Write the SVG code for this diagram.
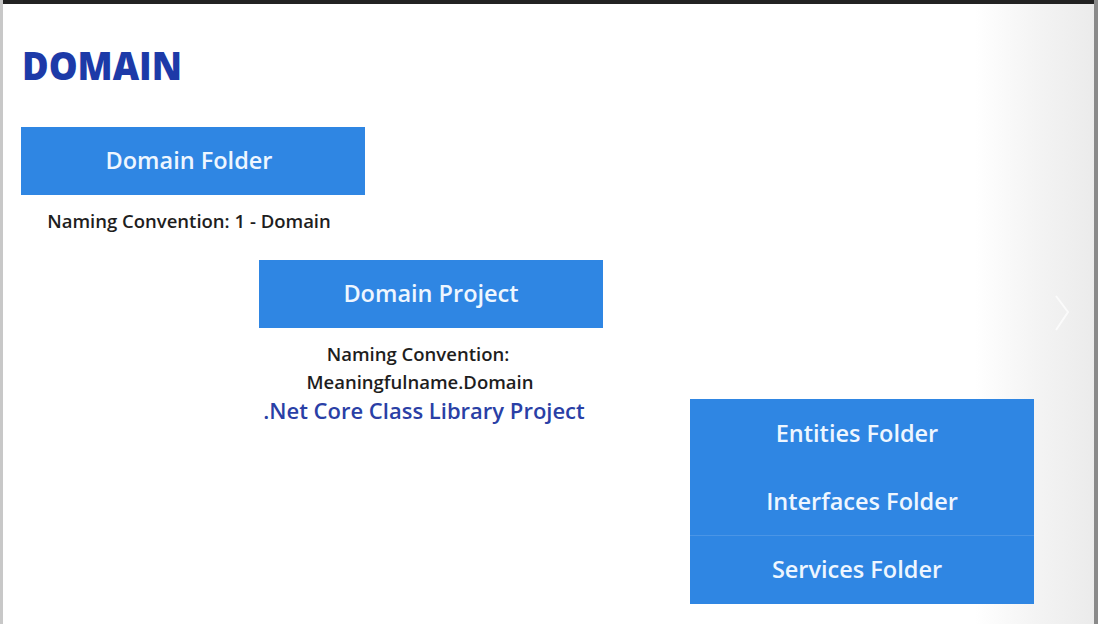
<svg xmlns="http://www.w3.org/2000/svg" width="1098" height="624" viewBox="0 0 1098 624">
<defs>
<linearGradient id="edge" x1="0" y1="0" x2="1" y2="0">
<stop offset="0" stop-color="#ffffff"/>
<stop offset="0.5" stop-color="#f4f4f4"/>
<stop offset="1" stop-color="#ebebeb"/>
</linearGradient>
<style>
.box{fill:#2f86e3;}
.bt{font-family:"Open Sans","Noto Sans",sans-serif;font-weight:600;font-size:23.5px;fill:#eef6ff;text-anchor:middle;}
.nt{font-family:"Open Sans","Noto Sans",sans-serif;font-weight:600;font-size:18.5px;fill:#1e1e1e;text-anchor:middle;}
.lt{font-family:"Open Sans","Noto Sans",sans-serif;font-weight:600;font-size:22px;fill:#2a3fa6;text-anchor:middle;}
.title{font-family:"Open Sans","Noto Sans",sans-serif;font-weight:800;font-size:38px;fill:#1d3aa8;}
</style>
</defs>
<rect x="0" y="0" width="1098" height="624" fill="#ffffff"/>
<rect x="975" y="0" width="120" height="624" fill="url(#edge)"/>
<rect x="0" y="0" width="1098" height="4" fill="#222222"/>
<rect x="1094" y="0" width="4" height="624" fill="#8a8a8a"/>
<rect x="0" y="0" width="3" height="624" fill="#c8c8c8"/>
<polyline points="1056,296 1068,312 1056,330" fill="none" stroke="#ffffff" stroke-width="2" opacity="0.7"/>
<g id="title"><text class="title" x="22" y="80" textLength="160" lengthAdjust="spacingAndGlyphs">DOMAIN</text></g>
<g id="domain-folder">
<rect class="box" x="21" y="127" width="344" height="68"/>
<text class="bt" x="189" y="169">Domain Folder</text>
</g>
<g id="domain-folder-note"><text class="nt" x="189" y="228">Naming Convention: 1 - Domain</text></g>
<g id="domain-project">
<rect class="box" x="259" y="260" width="344" height="68"/>
<text class="bt" x="431" y="302">Domain Project</text>
</g>
<g id="domain-project-note">
<text class="nt" x="418" y="361">Naming Convention:</text>
<text class="nt" x="420" y="389">Meaningfulname.Domain</text>
<text class="lt" x="424" y="419">.Net Core Class Library Project</text>
</g>
<g id="subfolders">
<rect class="box" x="690" y="399" width="344" height="205"/>
<line x1="690" y1="535.5" x2="1034" y2="535.5" stroke="#4a95e6" stroke-width="1"/>
<text class="bt" x="857" y="442">Entities Folder</text>
<text class="bt" x="862" y="510">Interfaces Folder</text>
<text class="bt" x="857" y="578">Services Folder</text>
</g>
<g id="connectors"></g>
</svg>
